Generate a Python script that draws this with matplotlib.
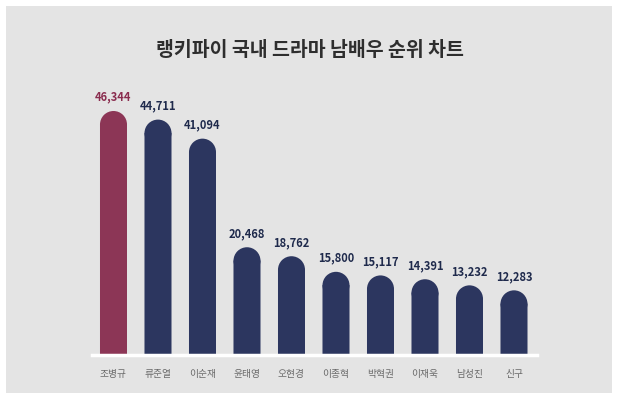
import matplotlib
matplotlib.use("Agg")
import matplotlib.pyplot as plt
from matplotlib.patches import Rectangle, Ellipse

plt.rcParams['font.family'] = ['Noto Sans CJK KR', 'DejaVu Sans']

names = ['조병규', '류준열', '이순재', '윤태영', '오현경', '이종혁', '박혁권', '이재욱', '남성진', '신구']
votes = [46344, 44711, 41094, 20468, 18762, 15800, 15117, 14391, 13232, 12283]
title = '랭키파이 국내 드라마 남배우 순위 차트'

W, H = 620, 399
fig = plt.figure(figsize=(W / 100, H / 100), dpi=100)
fig.patch.set_facecolor('white')

# 회색 패널
fig.patches.append(Rectangle((6 / W, 1 - 393 / H), (612 - 6) / W, (393 - 6) / H,
                             transform=fig.transFigure, facecolor='#e4e4e4',
                             edgecolor='none', zorder=-10))

# 축 위치: 기준선 y=355px, x=92~537px
left, right = 92 / W, 537 / W
ymax = 50000
px_per_unit = 244 / 46344
top_px = 355 - ymax * px_per_unit
ax = fig.add_axes([left, 1 - 355 / H, right - left, (355 - top_px) / H])
ax.set_facecolor('none')
ax.set_xlim(-0.483, 9.517)
ax.set_ylim(0, ymax)
for s in ax.spines.values():
    s.set_visible(False)
ax.tick_params(length=0)
ax.set_yticks([])

bar_w = 0.607
# 둥근 윗부분 반지름 (y 데이터 단위)
x_px = (right - left) * W / 10.0
r_px = bar_w * x_px / 2
r_y = r_px / px_per_unit

for i, (n, v) in enumerate(zip(names, votes)):
    c = '#8c3656' if i == 0 else '#2c365f'
    tc = '#8a2d4f' if i == 0 else '#1f2a4c'
    ax.add_patch(Rectangle((i - bar_w / 2, 0), bar_w, v - r_y * 0.98, facecolor=c,
                           edgecolor='none', lw=0, snap=False))
    ax.add_patch(Ellipse((i, v - r_y), bar_w, 2 * r_y, facecolor=c,
                         edgecolor='none', lw=0, snap=False))
    ax.text(i, v + 1400, f'{v:,}', ha='center', va='bottom', fontsize=8,
            fontweight='bold', color=tc)

ax.axhline(0, color='white', lw=2.5, clip_on=False)
ax.set_xticks(range(len(names)))
ax.set_xticklabels(names, fontsize=7, color='#6a6a6a')
ax.tick_params(axis='x', pad=10)

fig.text(0.5, 1 - 50 / H, title, ha='center', va='center', fontsize=14,
         fontweight='bold', color='#2e2e2e')

fig.savefig('out.png', dpi=100)
